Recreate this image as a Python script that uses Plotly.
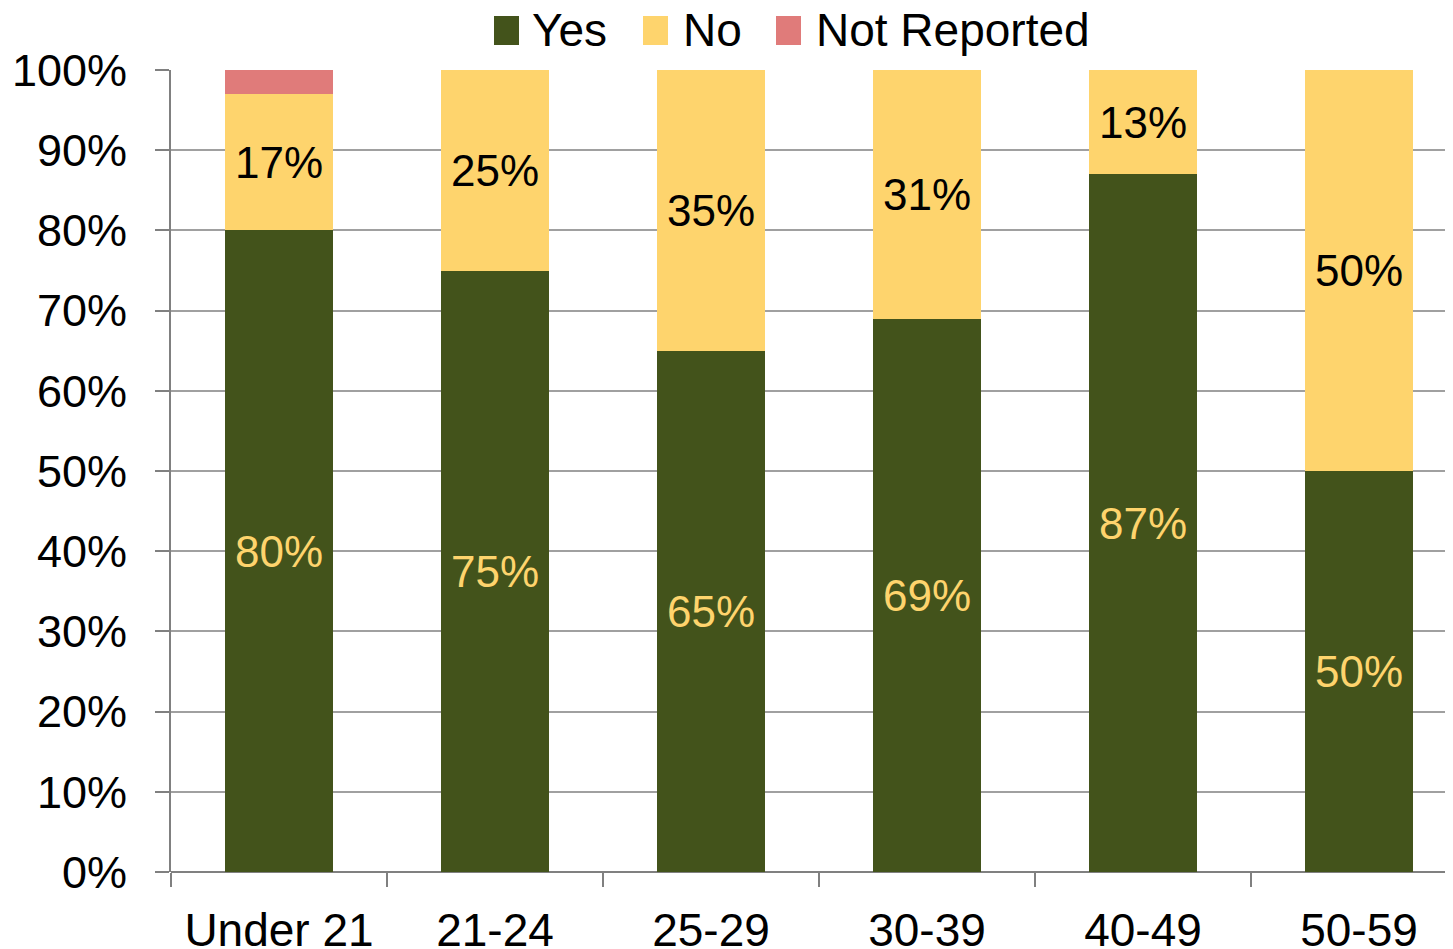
import plotly.graph_objects as go

categories = ["Under 21", "21-24", "25-29", "30-39", "40-49", "50-59"]
yes_vals = [80, 75, 65, 69, 87, 50]
no_vals = [17, 25, 35, 31, 13, 50]
nr_vals = [3, 0, 0, 0, 0, 0]
y_ticks = [0, 10, 20, 30, 40, 50, 60, 70, 80, 90, 100]
y_tick_labels = [f"{v}%" for v in y_ticks]
series_names = ["Yes", "No", "Not Reported"]
series_colors = ["#43531B", "#FED46D", "#E07B7A"]

FONT = "Liberation Sans"

# page body has an 8px margin; plot area on page: x 171..(beyond right edge), y 70..872
L, T, PW, PH = 163, 62, 1290, 802
CAT_PX = 216  # pixels per category in the reference

fig = go.Figure()
fig.add_trace(go.Bar(
    name=series_names[0], x=categories, y=yes_vals,
    marker=dict(color=series_colors[0], line=dict(width=0)),
    text=[f"{v}%" for v in yes_vals], textposition="inside",
    insidetextanchor="middle",
    textfont=dict(color="#FED46D", size=44, family=FONT),
    width=0.5, showlegend=False,
))
fig.add_trace(go.Bar(
    name=series_names[1], x=categories, y=no_vals,
    marker=dict(color=series_colors[1], line=dict(width=0)),
    text=[f"{v}%" for v in no_vals], textposition="inside",
    insidetextanchor="middle",
    textfont=dict(color="#000000", size=44, family=FONT),
    width=0.5, showlegend=False,
))
fig.add_trace(go.Bar(
    name=series_names[2], x=categories, y=nr_vals,
    marker=dict(color=series_colors[2], line=dict(width=0)),
    textposition="none",
    width=0.5, showlegend=False,
))

# manual legend (page pixel targets converted to paper coords)
def px(p):
    return (p - 171) / PW

def py(q):
    return (872 - q) / PH

sw_x = [494, 643, 776]
tx_x = [530, 681, 814]
for n, c, sx, tx in zip(series_names, series_colors, sw_x, tx_x):
    fig.add_shape(type="rect", xref="paper", yref="paper",
                  x0=px(sx), x1=px(sx + 25), y0=py(45), y1=py(16),
                  fillcolor=c, line=dict(width=0))
    fig.add_annotation(xref="paper", yref="paper", x=px(tx), y=py(30),
                       xanchor="left", yanchor="middle", showarrow=False,
                       text=n, font=dict(size=46, family=FONT, color="#000000"))

fig.update_layout(
    barmode="stack",
    width=1453, height=949,
    margin=dict(l=L, r=1453 - L - PW, t=T, b=949 - T - PH, autoexpand=False),
    paper_bgcolor="white", plot_bgcolor="white",
    font=dict(family=FONT, size=44, color="#000000"),
    uniformtext=dict(mode="show", minsize=44),
    showlegend=False,
    bargap=0.5,
)
fig.update_xaxes(
    type="category", range=[-0.5, -0.5 + PW / CAT_PX],
    showgrid=False, showline=False,
    ticks="outside", tickson="boundaries", ticklen=14, tickwidth=2, tickcolor="#808080",
    tickfont=dict(size=46, family=FONT),
    ticklabelstandoff=27, automargin=False,
    zeroline=False,
)
fig.update_yaxes(
    range=[0, 100], tickvals=y_ticks, ticktext=y_tick_labels,
    showgrid=True, gridcolor="#A0A0A0", gridwidth=2,
    showline=True, linecolor="#808080", linewidth=2,
    ticks="outside", ticklen=14, tickwidth=2, tickcolor="#808080",
    tickfont=dict(size=45, family=FONT),
    ticklabelstandoff=19, automargin=False,
    zeroline=True, zerolinecolor="#808080", zerolinewidth=2,
)

fig.write_html("out.html")
